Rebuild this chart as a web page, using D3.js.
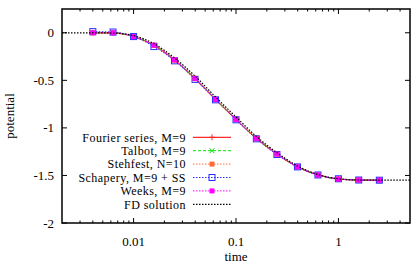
<!DOCTYPE html>
<html>
<head>
<meta charset="utf-8">
<script src="https://cdn.jsdelivr.net/npm/d3@7"></script>
<style>
  body { margin: 0; background: #fff; }
</style>
</head>
<body>
<div class="chart"></div>
<script>
// sample times of the inversion methods
const times = [0.004, 0.0063, 0.01, 0.0158, 0.0251, 0.0398, 0.0631, 0.1, 0.158, 0.251, 0.398, 0.631, 1, 1.58, 2.51];

// series values
const fourier  = [0, 0, -0.04, -0.13, -0.285, -0.48, -0.7, -0.91, -1.11, -1.275, -1.41, -1.495, -1.538, -1.548, -1.55];
const talbot   = [0, 0, -0.04, -0.13, -0.285, -0.48, -0.7, -0.91, -1.11, -1.275, -1.41, -1.495, -1.538, -1.548, -1.55];
const stehfest = [0, 0, -0.04, -0.132, -0.287, -0.482, -0.702, -0.912, -1.112, -1.277, -1.41, -1.495, -1.538, -1.548, -1.55];
const schapery = [0.012, 0.008, -0.04, -0.145, -0.295, -0.49, -0.705, -0.915, -1.115, -1.28, -1.41, -1.495, -1.535, -1.548, -1.55];
const weeks    = [0, 0, -0.04, -0.13, -0.285, -0.48, -0.7, -0.91, -1.11, -1.275, -1.41, -1.495, -1.538, -1.548, -1.55];

// finite difference reference
const fdTimes  = [0.002, 0.0025, 0.004, 0.0063, 0.01, 0.0158, 0.0251, 0.0398, 0.0631, 0.1, 0.158, 0.251, 0.398, 0.631, 1, 1.58, 2.51, 3.98, 5];
const fdValues = [0, 0, 0, -0.003, -0.03, -0.115, -0.265, -0.455, -0.675, -0.885, -1.09, -1.26, -1.4, -1.49, -1.535, -1.548, -1.55, -1.55, -1.55];

// axis ticks
const xTicks = [0.01, 0.1, 1];
const xTickLabels = ["0.01", "0.1", "1"];
const yTicks = [0, -0.5, -1, -1.5, -2];
const yTickLabels = ["0", "-0.5", "-1", "-1.5", "-2"];

const series = [
  { name: "Fourier series, M=9",  values: fourier,  color: "#ff2a2a", dash: null,    width: 1.3, marker: "plus" },
  { name: "Talbot, M=9",          values: talbot,   color: "#00e000", dash: "3,2",   width: 1,   marker: "cross" },
  { name: "Stehfest, N=10",       values: stehfest, color: "#ff6a3a", dash: "1.5,1.5", width: 1, marker: "fill" },
  { name: "Schapery, M=9 + SS",   values: schapery, color: "#2a2aff", dash: "1.5,1.5", width: 1, marker: "open" },
  { name: "Weeks, M=9",           values: weeks,    color: "#ff00ff", dash: "1.5,1.5", width: 1, marker: "fill" }
];

// setup chart
const width = 415, height = 263;
const plot = { left: 62, right: 410, top: 9, bottom: 223 };
const svg = d3.select(".chart").append("svg").attr("width", width).attr("height", height)
  .attr("font-family", "'Liberation Serif', 'Times New Roman', Times, 'DejaVu Serif', serif")
  .attr("font-size", 13);

const x = d3.scaleLog().domain([0.002, 5]).range([plot.left, plot.right]);
const y = d3.scaleLinear().domain([-2, 0.25]).range([plot.bottom, plot.top]);

svg.append("clipPath").attr("id", "clip").append("rect")
  .attr("x", plot.left).attr("y", plot.top)
  .attr("width", plot.right - plot.left).attr("height", plot.bottom - plot.top);

// ticks (inside, mirrored)
const ticks = svg.append("g").attr("stroke", "#000").attr("stroke-width", 1);
const minor = [];
[0.001, 0.01, 0.1, 1].forEach((d) => { for (let k = 2; k <= 9; k++) minor.push(d * k); });
minor.filter((v) => v > 0.002 && v < 5).forEach((v) => {
  ticks.append("line").attr("x1", x(v)).attr("x2", x(v)).attr("y1", plot.bottom).attr("y2", plot.bottom - 2.5);
  ticks.append("line").attr("x1", x(v)).attr("x2", x(v)).attr("y1", plot.top).attr("y2", plot.top + 2.5);
});
xTicks.forEach((v) => {
  ticks.append("line").attr("x1", x(v)).attr("x2", x(v)).attr("y1", plot.bottom).attr("y2", plot.bottom - 5);
  ticks.append("line").attr("x1", x(v)).attr("x2", x(v)).attr("y1", plot.top).attr("y2", plot.top + 5);
});
yTicks.forEach((v) => {
  ticks.append("line").attr("x1", plot.left).attr("x2", plot.left + 5).attr("y1", y(v)).attr("y2", y(v));
  ticks.append("line").attr("x1", plot.right).attr("x2", plot.right - 5).attr("y1", y(v)).attr("y2", y(v));
});

// tick labels
svg.append("g").selectAll("text").data(xTicks).enter().append("text")
  .attr("x", (d) => x(d)).attr("y", 245.5).attr("text-anchor", "middle")
  .text((d, i) => xTickLabels[i]);
svg.append("g").selectAll("text").data(yTicks).enter().append("text")
  .attr("x", 54).attr("y", (d) => y(d) + 4.5).attr("text-anchor", "end")
  .text((d, i) => yTickLabels[i]);

// axis titles
svg.append("text").attr("x", (plot.left + plot.right) / 2).attr("y", 261).attr("text-anchor", "middle").text("time");
svg.append("text").attr("transform", `translate(14,${(plot.top + plot.bottom) / 2}) rotate(-90)`)
  .attr("text-anchor", "middle").text("potential");

// markers
function drawMarker(g, kind, cx, cy, color) {
  if (kind === "plus") {
    g.append("path").attr("d", `M${cx - 3},${cy}H${cx + 3}M${cx},${cy - 3}V${cy + 3}`)
      .attr("stroke", color).attr("stroke-width", 1).attr("fill", "none");
  } else if (kind === "cross") {
    g.append("path").attr("d", `M${cx - 2.5},${cy - 2.5}L${cx + 2.5},${cy + 2.5}M${cx - 2.5},${cy + 2.5}L${cx + 2.5},${cy - 2.5}`)
      .attr("stroke", color).attr("stroke-width", 1).attr("fill", "none");
  } else if (kind === "fill") {
    g.append("rect").attr("x", cx - 2.5).attr("y", cy - 2.5).attr("width", 5).attr("height", 5).attr("fill", color);
  } else if (kind === "open") {
    g.append("rect").attr("x", cx - 3).attr("y", cy - 3).attr("width", 6).attr("height", 6)
      .attr("fill", "none").attr("stroke", color).attr("stroke-width", 1);
  }
}

const line = d3.line().x((d) => x(d[0])).y((d) => y(d[1])).curve(d3.curveMonotoneX);
const curves = svg.append("g").attr("clip-path", "url(#clip)");

series.forEach((s) => {
  const pts = times.map((t, i) => [t, s.values[i]]);
  curves.append("path").attr("d", line(pts)).attr("fill", "none")
    .attr("stroke", s.color).attr("stroke-width", s.width)
    .attr("stroke-dasharray", s.dash);
  pts.forEach((p) => drawMarker(curves, s.marker, x(p[0]), y(p[1]), s.color));
});

// FD solution on top
curves.append("path").attr("d", line(fdTimes.map((t, i) => [t, fdValues[i]])))
  .attr("fill", "none").attr("stroke", "#000").attr("stroke-width", 1.2).attr("stroke-dasharray", "1.5,1.5");

// legend (rows are tight, so slightly smaller type with a bit of tracking)
const legend = svg.append("g").attr("font-size", 12).attr("letter-spacing", 0.45);
const rows = series.concat([{ name: "FD solution", color: "#000", dash: "1.5,1.5", width: 1.2, marker: null }]);
rows.forEach((s, i) => {
  const ly = 137.3 + i * 13.4;
  legend.append("text").attr("x", 186).attr("y", ly + 4.2).attr("text-anchor", "end").text(s.name);
  legend.append("line").attr("x1", 193).attr("x2", 231).attr("y1", ly).attr("y2", ly)
    .attr("stroke", s.color).attr("stroke-width", s.width).attr("stroke-dasharray", s.dash);
  if (s.marker) drawMarker(legend, s.marker, 212, ly, s.color);
});

// frame
svg.append("rect").attr("x", plot.left).attr("y", plot.top)
  .attr("width", plot.right - plot.left).attr("height", plot.bottom - plot.top)
  .attr("fill", "none").attr("stroke", "#000").attr("stroke-width", 1.5);
</script>
</body>
</html>
